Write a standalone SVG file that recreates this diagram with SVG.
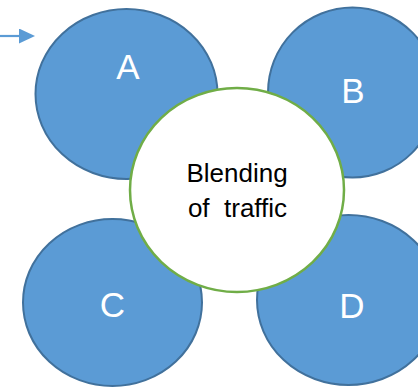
<svg xmlns="http://www.w3.org/2000/svg" width="418" height="387" viewBox="0 0 418 387">
<style>
.blob{fill:#5B9BD5;stroke:#41719C;stroke-width:2}
.lbl{font-family:"Liberation Sans",Arial,sans-serif;font-size:35px;fill:#FFFFFF;text-anchor:middle}
.hub{fill:#FFFFFF;stroke:#70AD47;stroke-width:2.5}
.hubtxt{font-family:"Liberation Sans",Arial,sans-serif;font-size:26px;fill:#000000;text-anchor:middle;white-space:pre}
.conn{stroke:#5B9BD5;stroke-width:2.2;fill:none}
</style>
<defs>
<marker id="ah" markerWidth="16" markerHeight="15" viewBox="0 0 16 15" refX="1" refY="7.5" orient="auto" markerUnits="userSpaceOnUse">
<path d="M0,0 L16,7.5 L0,15 Z" fill="#5B9BD5"/>
</marker>
</defs>
<g id="connectors">
<line class="conn" x1="0" y1="36" x2="20" y2="36" marker-end="url(#ah)"/>
</g>
<g id="node-A">
<ellipse class="blob" cx="126.5" cy="94" rx="91" ry="85"/>
<text class="lbl" x="128" y="79">A</text>
</g>
<g id="node-B">
<ellipse class="blob" cx="352.5" cy="92.5" rx="84.5" ry="85"/>
<text class="lbl" x="353" y="103">B</text>
</g>
<g id="node-C">
<ellipse class="blob" cx="112.5" cy="302.5" rx="89.5" ry="83.5"/>
<text class="lbl" x="112.5" y="317">C</text>
</g>
<g id="node-D">
<ellipse class="blob" cx="348.5" cy="300" rx="91.5" ry="85"/>
<text class="lbl" x="352" y="318">D</text>
</g>
<g id="node-center">
<ellipse class="hub" cx="237" cy="190" rx="107" ry="102"/>
<text class="hubtxt" x="237" y="182">Blending</text>
<text class="hubtxt" x="237.5" y="217" xml:space="preserve">of  traffic</text>
</g>
</svg>
